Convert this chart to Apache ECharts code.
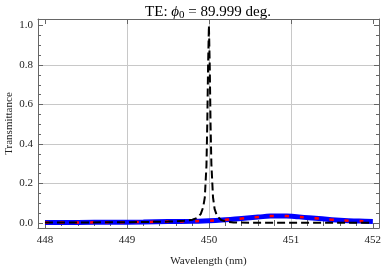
<!DOCTYPE html>
<html><head><meta charset="utf-8">
<script src="https://cdn.jsdelivr.net/npm/echarts@6/dist/echarts.min.js"></script>
<style>html,body{margin:0;padding:0;background:#fff}#c{width:382px;height:267px}</style>
</head><body><div id="c"></div>
<script>
// Data
const wlBlue = [448.0,448.4,448.8,449.2,449.5,449.8,450.0,450.2,450.4,450.6,450.75,450.85,450.95,451.1,451.3,451.5,451.7,451.9,452.0];
const tBlue  = [0.003,0.003,0.004,0.005,0.007,0.009,0.011,0.016,0.023,0.030,0.035,0.036,0.035,0.031,0.024,0.017,0.012,0.009,0.008];
const wlBlack = [448.0,448.5,449.0,449.5,449.7,449.8,449.85,449.9,449.93,449.95,449.97,449.98,449.99,450.0,450.01,450.02,450.03,450.05,450.07,450.1,450.15,450.2,450.3,450.5,451.0,451.5,452.0];
const tBlack  = [0.002,0.003,0.004,0.007,0.011,0.017,0.025,0.045,0.08,0.13,0.29,0.50,0.80,1.00,0.80,0.50,0.30,0.13,0.07,0.035,0.015,0.008,0.003,0.001,0.001,0.001,0.001];
const xMajor = [448,449,450,451,452];
const xMinor = [448.2,448.4,448.6,448.8,449.2,449.4,449.6,449.8,450.2,450.4,450.6,450.8,451.2,451.4,451.6,451.8];
const xGrid = [449,450,451];
const yMajor = [0,0.2,0.4,0.6,0.8,1.0];
const yMinor = [0.05,0.1,0.15,0.25,0.3,0.35,0.45,0.5,0.55,0.65,0.7,0.75,0.85,0.9,0.95];
const yGrid = [0.2,0.4,0.6,0.8];

const XMIN = 447.915, XMAX = 452.075, YMIN = -0.0253, YMAX = 1.033;
const FONT = 'Liberation Serif';
const frameColor = '#666';

function xAx(opt){
  return Object.assign({type:'value', min:XMIN, max:XMAX, position:'bottom',
    axisLine:{show:false}, axisTick:{show:false}, axisLabel:{show:false}, splitLine:{show:false}}, opt);
}
function yAx(opt){
  return Object.assign({type:'value', min:YMIN, max:YMAX, position:'left',
    axisLine:{show:false}, axisTick:{show:false}, axisLabel:{show:false}, splitLine:{show:false}}, opt);
}

const chart = echarts.init(document.getElementById('c'), null, {renderer:'canvas'});
chart.setOption({
  animation:false,
  backgroundColor:'#fff',
  grid:{left:38, right:3, top:19, bottom:39, containLabel:false, outerBoundsMode:'none'},
  graphic:[{type:'text', x:208, y:12,
    style:{text:'{a|TE: }{i|\u03D5}{s|0}{a| = 89.999 deg.}', align:'center', verticalAlign:'middle',
      rich:{a:{fontFamily:FONT, fontSize:15, fill:'#000'},
            i:{fontFamily:FONT, fontSize:15, fontStyle:'italic', fill:'#000'},
            s:{fontFamily:FONT, fontSize:11, fill:'#000', padding:[7,0,0,0]}}}}],
  xAxis:[
    xAx({axisLine:{show:true, onZero:false, lineStyle:{color:frameColor, width:1}},
      axisTick:{show:true, inside:true, length:5, customValues:xMajor, lineStyle:{color:frameColor}},
      axisLabel:{show:true, customValues:xMajor, margin:7, fontFamily:FONT, fontSize:11, color:'#222', formatter:v=>String(Math.round(v))},
      name:'Wavelength (nm)', nameLocation:'middle', nameGap:28, nameMoveOverlap:false, nameTextStyle:{fontFamily:FONT, fontSize:11, color:'#222'}}),
    xAx({axisTick:{show:true, inside:true, length:3, customValues:xMinor, lineStyle:{color:frameColor}}}),
    xAx({position:'top', axisLine:{show:true, onZero:false, lineStyle:{color:frameColor, width:1}},
      axisTick:{show:true, inside:true, length:5, customValues:xMajor, lineStyle:{color:frameColor}}}),
    xAx({position:'top', axisTick:{show:true, inside:true, length:3, customValues:xMinor, lineStyle:{color:frameColor}}}),
    xAx({axisTick:{show:false, customValues:xGrid}, splitLine:{show:true, lineStyle:{color:'#c8c8c8', width:1}}})
  ],
  yAxis:[
    yAx({axisLine:{show:true, onZero:false, lineStyle:{color:frameColor, width:1}},
      axisTick:{show:true, inside:true, length:5, customValues:yMajor, lineStyle:{color:frameColor}},
      axisLabel:{show:true, customValues:yMajor, margin:5, fontFamily:FONT, fontSize:11, color:'#222', formatter:v=>v.toFixed(1)},
      name:'Transmittance', nameLocation:'middle', nameGap:23, nameRotate:90, nameMoveOverlap:false, nameTextStyle:{fontFamily:FONT, fontSize:11, color:'#222'}}),
    yAx({axisTick:{show:true, inside:true, length:3, customValues:yMinor, lineStyle:{color:frameColor}}}),
    yAx({position:'right', axisLine:{show:true, onZero:false, lineStyle:{color:frameColor, width:1}},
      axisTick:{show:true, inside:true, length:5, customValues:yMajor, lineStyle:{color:frameColor}}}),
    yAx({position:'right', axisTick:{show:true, inside:true, length:3, customValues:yMinor, lineStyle:{color:frameColor}}}),
    yAx({axisTick:{show:false, customValues:yGrid}, splitLine:{show:true, lineStyle:{color:'#c8c8c8', width:1}}})
  ],
  series:[
    {type:'line', xAxisIndex:0, yAxisIndex:0, data:wlBlue.map((x,i)=>[x,tBlue[i]]), showSymbol:false, smooth:true,
     lineStyle:{color:'#0000ff', width:5}, z:3},
    {type:'line', xAxisIndex:0, yAxisIndex:0, data:wlBlue.map((x,i)=>[x,tBlue[i]]), showSymbol:false, smooth:true,
     lineStyle:{color:'#ff0000', width:2.5, type:[4,11]}, z:4},
    {type:'line', xAxisIndex:0, yAxisIndex:0, data:wlBlack.map((x,i)=>[x,tBlack[i]]), showSymbol:false, smooth:false,
     lineStyle:{color:'#000', width:2, type:[8,4]}, z:5}
  ]
});
</script></body></html>
